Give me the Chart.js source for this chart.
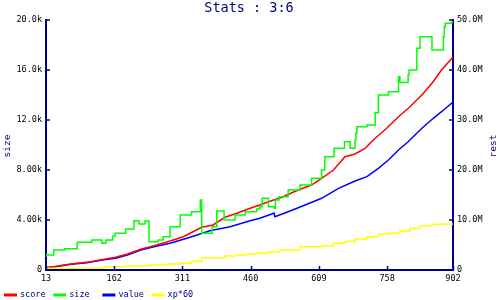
<!DOCTYPE html>
<html><head><meta charset="utf-8">
<script src="https://cdn.jsdelivr.net/npm/chart.js@4/dist/chart.umd.min.js"></script>
<style>html,body{margin:0;padding:0;background:#fff;overflow:hidden}#wrap{width:500px;height:300px;position:relative}</style>
</head><body><div id="wrap"><canvas id="c" width="500" height="300"></canvas></div>
<script>
const chartTitle = "Stats : 3:6";
const leftAxisTitle = "size";
const rightAxisTitle = "rest";
const xTicks = [13, 162, 311, 460, 609, 758, 902];
const leftTicks = [0, 4000, 8000, 12000, 16000, 20000];
const leftTickLabels = ["0", "4.00k", "8.00k", "12.0k", "16.0k", "20.0k"];
const rightTicks = [0, 10e6, 20e6, 30e6, 40e6, 50e6];
const rightTickLabels = ["0", "10.0M", "20.0M", "30.0M", "40.0M", "50.0M"];
const seriesNames = ["score", "size", "value", "xp*60"];

const sizeX = [13, 30, 54, 81, 113, 135, 144, 159, 164, 187, 205, 216, 229, 238, 258, 269, 284, 306, 331, 350, 353, 376, 386, 402, 426, 448, 473, 480, 485, 499, 512, 514, 522, 542, 568, 593, 615, 622, 642, 665, 677, 688, 690, 692, 714, 732, 739, 761, 783, 786, 804, 806, 823, 830, 856, 881, 883, 885, 899, 902];
const sizeY = [1040, 1200, 1600, 1700, 2220, 2400, 2140, 2400, 2720, 2940, 3280, 3940, 3680, 3920, 2260, 2400, 2660, 3460, 4400, 4660, 5600, 2940, 3460, 4720, 4000, 4400, 4660, 4880, 5060, 5740, 5060, 4940, 5600, 5860, 6400, 6800, 7340, 8000, 9060, 9740, 10260, 9740, 10400, 10940, 11460, 11600, 12580, 14000, 14260, 15460, 15000, 15600, 16000, 17740, 18660, 17600, 18660, 19460, 19740, 19840];

const scoreX = [13, 30, 52, 81, 111, 140, 165, 191, 220, 249, 284, 313, 353, 378, 404, 430, 459, 480, 499, 528, 564, 593, 615, 641, 666, 688, 710, 732, 757, 783, 808, 834, 856, 877, 902];
const scoreY = [0.4e6, 0.66e6, 1.0e6, 1.34e6, 1.66e6, 2.14e6, 2.54e6, 3.2e6, 4.14e6, 4.86e6, 5.8e6, 6.66e6, 8.54e6, 9.0e6, 10.54e6, 11.34e6, 12.34e6, 13.0e6, 13.66e6, 14.54e6, 16.0e6, 17.0e6, 18.34e6, 20.0e6, 22.66e6, 23.2e6, 24.34e6, 26.34e6, 28.34e6, 30.66e6, 32.66e6, 35.0e6, 37.34e6, 40.0e6, 42.6e6];

const valueX = [13, 34, 67, 103, 136, 165, 191, 220, 249, 284, 328, 371, 415, 459, 480, 506, 511, 513, 542, 579, 615, 652, 688, 714, 739, 761, 783, 804, 834, 859, 877, 902];
const valueY = [0.5e6, 0.66e6, 1.14e6, 1.46e6, 2.0e6, 2.34e6, 3.0e6, 4.0e6, 4.66e6, 5.34e6, 6.54e6, 7.86e6, 8.66e6, 9.86e6, 10.34e6, 11.2e6, 11.4e6, 10.66e6, 11.66e6, 13.0e6, 14.34e6, 16.34e6, 17.8e6, 18.66e6, 20.34e6, 22.0e6, 24.0e6, 25.66e6, 28.34e6, 30.34e6, 31.66e6, 33.6e6];

const xpX = [13, 140, 187, 240, 280, 306, 331, 353, 404, 426, 451, 473, 499, 524, 568, 615, 641, 666, 688, 714, 739, 761, 786, 808, 830, 856, 881, 902];
const xpY = [0.1e6, 0.34e6, 0.66e6, 0.8e6, 1.0e6, 1.2e6, 1.34e6, 1.8e6, 2.46e6, 2.8e6, 3.0e6, 3.2e6, 3.34e6, 3.66e6, 4.0e6, 4.66e6, 4.86e6, 5.34e6, 5.7e6, 6.2e6, 6.66e6, 7.14e6, 7.34e6, 7.8e6, 8.34e6, 8.86e6, 9.14e6, 9.2e6];

const colors = ["#ff0000", "#00ff00", "#0000ff", "#ffff00"];
const NAVY = "#000080";
const MONO = "'DejaVu Sans Mono', 'Liberation Mono', monospace";

function pts(xs, ys) { return xs.map((x, i) => ({ x: x, y: ys[i] })); }

const decor = {
  id: 'decor',
  afterDraw(chart) {
    const ctx = chart.ctx;
    const ca = chart.chartArea;
    const sx = chart.scales.x, sl = chart.scales.yL, sr = chart.scales.yR;
    ctx.save();
    // inward tick marks
    ctx.strokeStyle = NAVY; ctx.lineWidth = 1.5;
    ctx.beginPath();
    xTicks.forEach(v => { const p = Math.round(sx.getPixelForValue(v)) + 0.5; ctx.moveTo(p, ca.bottom); ctx.lineTo(p, ca.bottom - 4); });
    leftTicks.forEach(v => { const p = Math.round(sl.getPixelForValue(v)); ctx.moveTo(ca.left, p); ctx.lineTo(ca.left + 4, p); });
    rightTicks.forEach(v => { const p = Math.round(sr.getPixelForValue(v)); ctx.moveTo(ca.right, p); ctx.lineTo(ca.right - 4, p); });
    ctx.stroke();
    // title
    ctx.fillStyle = NAVY;
    ctx.font = "13.5px " + MONO;
    ctx.textAlign = 'center'; ctx.textBaseline = 'middle';
    ctx.fillText(chartTitle, 249, 8.5);
    // axis titles
    ctx.font = "9.5px " + MONO;
    ctx.save(); ctx.translate(8, 146); ctx.rotate(-Math.PI / 2); ctx.fillText(leftAxisTitle, 0, 0); ctx.restore();
    ctx.save(); ctx.translate(494, 146); ctx.rotate(-Math.PI / 2); ctx.fillText(rightAxisTitle, 0, 0); ctx.restore();
    // legend
    ctx.font = "8.5px " + MONO;
    ctx.textAlign = 'left';
    seriesNames.forEach((n, i) => {
      const x0 = 4 + i * 49.2;
      ctx.strokeStyle = colors[i]; ctx.lineWidth = 3;
      ctx.beginPath(); ctx.moveTo(x0, 295); ctx.lineTo(x0 + 13, 295); ctx.stroke();
      ctx.fillStyle = NAVY;
      ctx.fillText(n, x0 + 16, 294.5);
    });
    ctx.restore();
  }
};

const tickFont = { family: MONO, size: 8.5 };

new Chart(document.getElementById('c'), {
  type: 'line',
  data: {
    datasets: [
      { label: seriesNames[3], data: pts(xpX, xpY), yAxisID: 'yR', borderColor: colors[3], stepped: 'after' },
      { label: seriesNames[1], data: pts(sizeX, sizeY), yAxisID: 'yL', borderColor: colors[1], stepped: 'after' },
      { label: seriesNames[0], data: pts(scoreX, scoreY), yAxisID: 'yR', borderColor: colors[0] },
      { label: seriesNames[2], data: pts(valueX, valueY), yAxisID: 'yR', borderColor: colors[2] }
    ]
  },
  options: {
    responsive: false,
    animation: false,
    devicePixelRatio: 1,
    layout: { padding: { top: 20, left: 0, right: 0, bottom: 0 } },
    elements: { point: { radius: 0 }, line: { borderWidth: 1.5, tension: 0, fill: false } },
    plugins: { legend: { display: false }, title: { display: false }, tooltip: { enabled: false } },
    scales: {
      x: {
        type: 'linear', min: 13, max: 902,
        afterBuildTicks: s => { s.ticks = xTicks.map(v => ({ value: v })); },
        afterFit: s => { s.height = 30; },
        ticks: { autoSkip: false, maxRotation: 0, padding: 4, font: tickFont, color: '#000', callback: v => String(v) },
        grid: { display: false, drawTicks: false },
        border: { display: true, color: NAVY, width: 2 }
      },
      yL: {
        position: 'left', min: 0, max: 20000,
        afterBuildTicks: s => { s.ticks = leftTicks.map(v => ({ value: v })); },
        afterFit: s => { s.width = 46; },
        ticks: { padding: 4, font: tickFont, color: '#000', callback: v => leftTickLabels[leftTicks.indexOf(v)] },
        grid: { display: false, drawTicks: false },
        border: { display: true, color: NAVY, width: 2 }
      },
      yR: {
        position: 'right', min: 0, max: 50e6,
        afterBuildTicks: s => { s.ticks = rightTicks.map(v => ({ value: v })); },
        afterFit: s => { s.width = 47; },
        ticks: { padding: 4, font: tickFont, color: '#000', callback: v => rightTickLabels[rightTicks.indexOf(v)] },
        grid: { display: false, drawTicks: false },
        border: { display: true, color: NAVY, width: 2 }
      }
    }
  },
  plugins: [decor]
});
</script>
</body></html>
